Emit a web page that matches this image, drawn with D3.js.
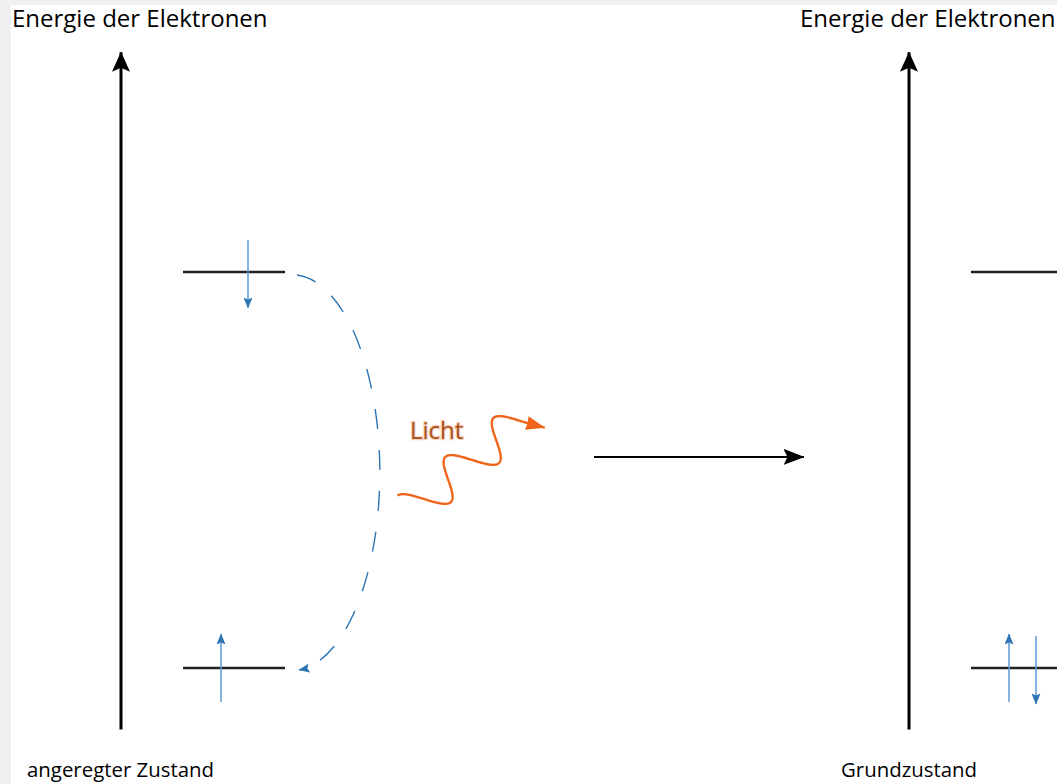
<!DOCTYPE html>
<html>
<head>
<meta charset="utf-8">
<script src="https://cdn.jsdelivr.net/npm/d3@7"></script>
<style>
  html, body { margin: 0; padding: 0; background: #f0f0f0; }
  svg { display: block; }
  text { font-family: "Open Sans", Lato, sans-serif; }
</style>
</head>
<body>
<div class="canvas"></div>
<script>
// Data
const panelNames = ["angeregter Zustand", "Grundzustand"];
const axisTitle = "Energie der Elektronen";
const energyLevels = [1, 2];            // E1 (ground), E2 (excited)
const axisExtent = [0.845, 2.555];      // energy range of the vertical axes
const electronPanel = [0, 0, 1, 1];
const electronLevel = [2, 1, 1, 1];
const electronSpin = ["down", "up", "up", "down"];
const photonLabel = "Licht";

// Layout
const width = 1057, height = 784;
const blue = "#2e75b6", blueLight = "#5b9bd5", orange = "#f0651a";

const svg = d3.select('.canvas')
    .append('svg')
    .attr('width', width)
    .attr('height', height);

svg.append('rect')
    .attr('x', 11).attr('y', 5)
    .attr('width', width).attr('height', height)
    .attr('fill', '#fff');

// scales: panel index -> axis x, energy -> y
const x = d3.scaleLinear().domain([0, 1]).range([121, 909]);
const y = d3.scaleLinear().domain(energyLevels).range([668, 272]);

// arrow markers
const defs = svg.append('defs');
function marker(id, len, wid, color, notch) {
    defs.append('marker')
        .attr('id', id)
        .attr('viewBox', `0 0 ${len} ${wid}`)
        .attr('markerUnits', 'userSpaceOnUse')
        .attr('markerWidth', len)
        .attr('markerHeight', wid)
        .attr('refX', len - 0.5)
        .attr('refY', wid / 2)
        .attr('orient', 'auto')
        .append('path')
        .attr('d', `M0,0 L${len},${wid / 2} L0,${wid} L${notch},${wid / 2} Z`)
        .attr('fill', color);
}
marker('axisHead', 20, 18, '#000', 4);
marker('stepHead', 21, 16, '#000', 4);
marker('spinHead', 11, 9, blue, 2);
marker('dashHead', 11, 9, blue, 2);
marker('photonHead', 19, 14, orange, 1);

// panels: axis, title, state name, energy levels
const panel = svg.selectAll('g.panel')
    .data(panelNames)
    .enter().append('g')
    .attr('class', 'panel')
    .attr('transform', (d, i) => `translate(${x(i)},0)`);

panel.append('line')
    .attr('x1', 0).attr('x2', 0)
    .attr('y1', y(axisExtent[0])).attr('y2', y(axisExtent[1]))
    .attr('stroke', '#000')
    .attr('stroke-width', 3)
    .attr('marker-end', 'url(#axisHead)');

panel.append('text')
    .attr('x', -109).attr('y', 27)
    .style('font-size', '24px')
    .attr('fill', '#000')
    .text(axisTitle);

panel.append('text')
    .attr('x', (d, i) => i === 0 ? -94 : -68)
    .attr('y', 777)
    .style('font-size', '20.4px')
    .attr('fill', '#000')
    .text(d => d);

panel.selectAll('line.level')
    .data(energyLevels)
    .enter().append('line')
    .attr('class', 'level')
    .attr('x1', 62).attr('x2', 164)
    .attr('y1', d => y(d)).attr('y2', d => y(d))
    .attr('stroke', '#222')
    .attr('stroke-width', 2.5);

// right panel levels run off the edge
panel.filter((d, i) => i === 1).selectAll('line.level')
    .attr('x2', 200);

// electrons (spin arrows)
svg.selectAll('line.spin')
    .data(electronPanel.map((p, i) => ({ p, lvl: electronLevel[i], spin: electronSpin[i] })))
    .enter().append('line')
    .attr('class', 'spin')
    .attr('x1', d => x(d.p) + (d.spin === 'up' ? 100 : 127))
    .attr('x2', d => x(d.p) + (d.spin === 'up' ? 100 : 127))
    .attr('y1', d => y(d.lvl) + (d.spin === 'up' ? 34 : -32))
    .attr('y2', d => y(d.lvl) + (d.spin === 'up' ? -34 : 36))
    .attr('stroke', blueLight)
    .attr('stroke-width', 1.5)
    .attr('marker-end', 'url(#spinHead)');

// dashed transition E2 -> E1
const x0 = x(0);
svg.append('path')
    .attr('d', `M${x0 + 176},${y(2) + 3} A 88 198 0 0 1 ${x0 + 178},${y(1) + 2}`)
    .attr('fill', 'none')
    .attr('stroke', blue)
    .attr('stroke-width', 1.4)
    .attr('stroke-dasharray', '20 21')
    .attr('marker-end', 'url(#dashHead)');

// photon: sine along a tilted axis, ending in a short straight run
const ang = 39 * Math.PI / 180;
const u = [Math.cos(ang), -Math.sin(ang)];
const m = [0.740, 0.673];
const lambda = 62, amp = 19.5;
const origin = [424, 499];
const k = amp * 2 * Math.PI / lambda;
const wavePt = ph => {
    const s = ph / (2 * Math.PI) * lambda;
    const o = amp * Math.sin(ph);
    return [origin[0] + s * u[0] + o * m[0], origin[1] + s * u[1] + o * m[1]];
};
const phEnd = 4 * Math.PI + 0.5;
const photonPts = d3.range(-Math.PI / 2, phEnd, 0.04).map(wavePt);
const last = wavePt(phEnd);
const tan = [u[0] + k * Math.cos(phEnd) * m[0], u[1] + k * Math.cos(phEnd) * m[1]];
const tl = Math.hypot(tan[0], tan[1]);
photonPts.push(last, [last[0] + 14 * tan[0] / tl, last[1] + 14 * tan[1] / tl]);

svg.append('path')
    .attr('d', d3.line()(photonPts))
    .attr('fill', 'none')
    .attr('stroke', orange)
    .attr('stroke-width', 2.4)
    .attr('stroke-linejoin', 'round')
    .attr('marker-end', 'url(#photonHead)');

svg.append('text')
    .attr('x', 410).attr('y', 439)
    .style('font-size', '24px')
    .attr('fill', '#a9511b')
    .attr('stroke', '#f6c9ab')
    .attr('stroke-width', 2.5)
    .attr('stroke-opacity', 0.8)
    .attr('paint-order', 'stroke')
    .text(photonLabel);

// step arrow: excited -> ground state
svg.append('line')
    .attr('x1', 594).attr('x2', 804)
    .attr('y1', y(1.533)).attr('y2', y(1.533))
    .attr('stroke', '#000')
    .attr('stroke-width', 2)
    .attr('marker-end', 'url(#stepHead)');
</script>
</body>
</html>
